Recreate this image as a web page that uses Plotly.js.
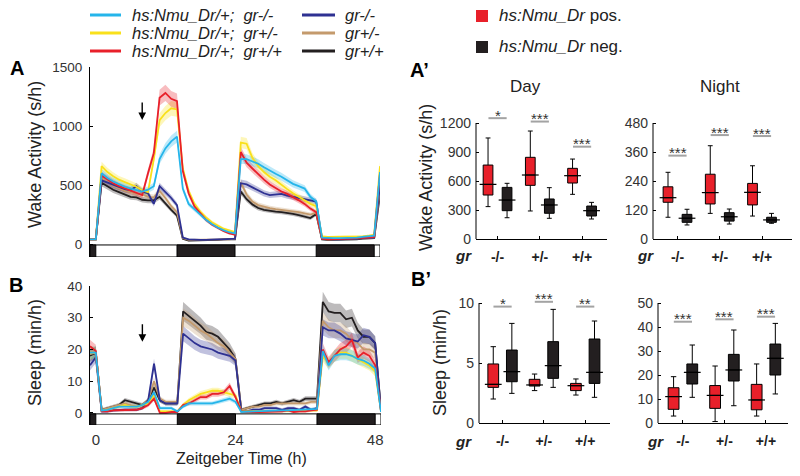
<!DOCTYPE html>
<html>
<head>
<meta charset="utf-8">
<script src="https://cdn.plot.ly/plotly-3.0.1.min.js"></script>
<style>
body{margin:0;background:#fff}
#graph{width:800px;height:476px}
</style>
</head>
<body>
<div id="graph"></div>
<script>
// hours of recording (ZT), hourly bins
var hours = [-1,0,1,2,3,4,5,6,7,8,9,10,11,12,13,14,15,16,17,18,19,20,21,22,23,24,
  25,26,27,28,29,30,31,32,33,34,35,36,37,38,39,40,41,42,43,44,45,46,47,48,49];

// light schedule
var darkStart = [-1, 14, 38];
var darkEnd = [0, 24, 48];
var barStart = -1, barEnd = 49;

var seriesLabels = ['hs:Nmu_Dr/+;\u00a0\u00a0gr-/-', 'hs:Nmu_Dr/+;\u00a0\u00a0gr+/-', 'hs:Nmu_Dr/+;\u00a0\u00a0gr+/+',
  'gr-/-', 'gr+/-', 'gr+/+'];
var seriesColors = ['#25b5ea', '#f9e01b', '#e8202a', '#2e3192', '#c49a6c', '#231f20'];

// wake activity (s/h)
var wakeCyan = [40,40,600,560,530,505,485,470,460,445, 460,490,720,810,870,910,470,340,295,250,
  205,170,140,118,100,90,720,720,700,680, 650,620,595,570,540,510,490,470,400,360,
  55,50,50,50,50,55,55,60,65,70, 610];
var wakeYellow = [40,40,660,610,575,545,525,505,485,455, 440,720,1050,1110,1150,1140,640,450,340,275,
  225,185,155,130,115,100,860,850,730,660, 610,570,540,500,465,430,400,375,340,320,
  65,60,60,60,60,60,65,65,70,80, 660];
var wakeRed = [40,40,580,545,515,490,470,455,435,415, 600,770,1240,1280,1230,1210,620,430,320,260,
  205,165,135,110,90,80,780,690,640,590, 545,505,475,445,425,400,370,340,300,270,
  45,40,40,40,45,45,50,50,55,60, 600];
var wakeNavy = [40,40,540,520,500,480,465,455,490,445, 430,340,490,440,390,330,55,40,35,35,
  35,40,40,40,45,45,515,505,480,455, 430,415,420,425,410,400,385,375,370,360,
  45,40,40,40,40,45,45,50,50,55, 500];
var wakeBrown = [40,40,560,525,495,470,450,440,425,420, 400,395,450,390,320,270,50,35,35,35,
  35,35,40,40,40,45,520,420,360,330, 315,305,295,290,285,280,270,260,250,265,
  45,40,40,40,40,45,45,50,50,55, 470];
var wakeBlack = [40,40,520,490,460,440,420,400,395,375, 370,370,400,340,290,240,45,30,30,30,
  35,35,35,40,40,40,445,380,335,305, 290,280,275,270,265,255,245,235,220,255,
  40,35,35,35,40,40,40,45,45,50, 420];

// sleep (min/h)
var sleepCyan = [19,19,0.8,1,1.5,2,2,2,2,2.5, 3.5,6.5,1.5,1.5,1.5,0.5,2,3,3,3,
  3,3,3.5,4,4.5,3.5,0.3,0.4,0.5,0.6, 0.7,0.7,0.8,0.8,0.8,0.9,1,1,1.1,1.3,
  19.5,15,18,18.5,18.5,18,17,16.5,15.5,14, 0.3];
var sleepYellow = [19,19,0.8,1,1.5,2,2.5,2,2,2.5, 3,5.5,0.5,0.5,0.5,0.5,2.5,4,5,6,
  6.5,7,7,6.5,6,5.5,0.5,0.5,0.5,0.5, 0.5,0.5,0.6,0.6,0.6,0.6,0.7,0.7,0.8,0.8,
  18,15.5,18,19,19,18,17,16,15,13, 0.5];
var sleepRed = [21,19.5,0.5,0.5,0.8,0.8,1,1,1,1.5, 2.5,4.5,0,0,0.3,0.3,2.5,3,4,5,
  5,6,6,6.5,8.5,5,0.5,0.3,0.3,0.3, 0.3,0.5,0.3,0.5,0.8,0.3,0.5,0.5,0.8,1,
  20,16,18,20,21,23,17.5,19,18,15, 0.5];
var sleepNavy = [15,17.5,0.5,0.5,0.8,1,1,1,1,1.5, 4,15.5,4,3,3,3,25,23.5,22,21,
  20.5,20,19,18.5,18,16.5,0.5,0.5,1,1, 1.5,1.5,1.5,1,1.5,1.5,1,2,1,1.5,
  27,26,26,25,23.5,23,22.5,24.5,24,22, 0.5];
var sleepBrown = [18.5,19,1,1.5,2,2.5,3,2.5,2,2.5, 4,10,4.5,3.5,3.5,3.5,30,29,27.5,26,
  25,23.5,22,21,19,17,1,1.5,2,2, 2.5,2.5,3,3,3,3,3,3,3.5,3.5,
  29,27,26,26,25,23,22,20,20,19, 1];
var sleepBlack = [18,19,1,1.5,2,2.5,4,3.5,3,2.5, 4,8,4,3,3,3,32,30.5,29,27.5,
  25.5,25,24,22,20,17,1,1.5,2,2.5, 3,3,3.5,3,3.5,4,3.5,4.5,4.5,4.5,
  35,32,31.5,31.5,29.5,30,26,24,24,22, 1];

// relative SEM used for the shaded bands
var wakeSemFrac = 0.05, sleepSemFrac = 0.08;

// box plot stats per genotype [-/-, +/-, +/+]: [low whisker, q1, median, q3, high whisker]
var genotypes = ['-/-', '+/-', '+/+'];
var wakeDayPos = [[335,455,565,765,1045],[290,555,662,845,1117],[462,579,655,731,827]];
var wakeDayNeg = [[220,293,403,534,576],[214,266,352,414,531],[207,238,293,341,379]];
var wakeNightPos = [[90,152,171,216,276],[106,145,192,268,386],[95,141,193,230,303]];
var wakeNightNeg = [[58,69,86,102,123],[62,74,92,109,124],[65,69,79,90,106]];
var sleepDayPos = [[2.0,2.97,3.22,4.92,6.36],[2.7,3.08,3.17,3.64,4.08],[2.33,2.7,3.11,3.3,3.67]];
var sleepDayNeg = [[2.47,3.44,4.28,6.08,8.3],[2.97,3.72,4.78,6.78,9.47],[2.14,3.3,4.22,7.0,8.5]];
var sleepNightPos = [[2.9,5.7,11,14.7,19.3],[0.6,6.1,11.5,15.6,23.75],[2.9,5.5,9.6,16.1,24.6]];
var sleepNightNeg = [[10.7,16.25,21.1,24.6,32.5],[7.2,17.5,22.1,28.6,38.75],[12.1,20,26.95,32.9,41.5]];

// y ticks of the box panels
var wakeDayTicks = [0, 300, 600, 900, 1200];
var wakeNightTicks = [0, 120, 240, 360, 480];
var sleepDayTicks = [0, 5, 10];
var sleepNightTicks = [0, 10, 20, 30, 40, 50];

// significance bars
var wakeDaySig = [1250, 1215, 955], wakeDayStars = ['*', '***', '***'];
var wakeNightSig = [345, 430, 426], wakeNightStars = ['***', '***', '***'];
var sleepDaySig = [9.7, 10.1, 9.7], sleepDayStars = ['*', '***', '**'];
var sleepNightSig = [42.2, 43.2, 44.3], sleepNightStars = ['***', '***', '***'];

var W = 800, H = 476;
function px(x) { return x / W; }
function py(y) { return 1 - y / H; }
function rgba(hex, a) {
  var n = parseInt(hex.slice(1), 16);
  return 'rgba(' + (n >> 16) + ',' + ((n >> 8) & 255) + ',' + (n & 255) + ',' + a + ')';
}

var FONT = 'Arial, "Liberation Sans", sans-serif';
var data = [];
var shapes = [];
var annotations = [];

function addTimeSeries(xa, ya, list, frac, floor) {
  // bands first
  list.forEach(function (s) {
    var lo = s.vals.map(function (v) { return Math.max(0, v - v * frac - floor); });
    var hi = s.vals.map(function (v) { return v + v * frac + floor; });
    data.push({x: hours, y: lo, xaxis: xa, yaxis: ya, mode: 'lines', line: {width: 0, color: s.color},
      hoverinfo: 'skip', showlegend: false});
    data.push({x: hours, y: hi, xaxis: xa, yaxis: ya, mode: 'lines', line: {width: 0, color: s.color},
      fill: 'tonexty', fillcolor: rgba(s.color, 0.3), hoverinfo: 'skip', showlegend: false});
  });
  list.forEach(function (s) {
    data.push({x: hours, y: s.vals, xaxis: xa, yaxis: ya, mode: 'lines',
      line: {width: 1.8, color: s.color}, showlegend: false});
  });
}

// draw order: black, tan, navy, yellow, red, cyan
addTimeSeries('x', 'y', [
  {vals: wakeBlack, color: seriesColors[5]}, {vals: wakeBrown, color: seriesColors[4]},
  {vals: wakeNavy, color: seriesColors[3]}, {vals: wakeYellow, color: seriesColors[1]},
  {vals: wakeRed, color: seriesColors[2]}, {vals: wakeCyan, color: seriesColors[0]}], wakeSemFrac, 5);
addTimeSeries('x2', 'y2', [
  {vals: sleepBlack, color: seriesColors[5]}, {vals: sleepBrown, color: seriesColors[4]},
  {vals: sleepNavy, color: seriesColors[3]}, {vals: sleepYellow, color: seriesColors[1]},
  {vals: sleepRed, color: seriesColors[2]}, {vals: sleepCyan, color: seriesColors[0]}], sleepSemFrac, 0.4);

// light/dark bars under the time courses
function lightBar(xr, yr, y0, y1) {
  shapes.push({type: 'rect', xref: xr, yref: yr, x0: barStart, x1: barEnd, y0: y0, y1: y1,
    line: {color: '#000', width: 1}, fillcolor: '#fff'});
  for (var i = 0; i < darkStart.length; i++) {
    shapes.push({type: 'rect', xref: xr, yref: yr, x0: darkStart[i], x1: darkEnd[i], y0: y0, y1: y1,
      line: {color: '#000', width: 1}, fillcolor: '#231f20'});
  }
}
lightBar('x', 'y', -110, -8);
lightBar('x2', 'y2', -3.8, -0.3);

var groupPos = [1, 2, 3];
var boxOffset = 0.225;

function addBoxes(xa, ya, pos, neg, sig, stars, bw, ticks) {
  [[pos, -boxOffset, '#e8202a'], [neg, boxOffset, '#231f20']].forEach(function (b) {
    var st = b[0];
    var xs = groupPos.map(function (g) { return g + b[1]; });
    data.push({type: 'box', x: xs, xaxis: xa, yaxis: ya,
      lowerfence: st.map(function (r) { return r[0]; }),
      q1: st.map(function (r) { return r[1]; }),
      median: st.map(function (r) { return r[2]; }),
      q3: st.map(function (r) { return r[3]; }),
      upperfence: st.map(function (r) { return r[4]; }),
      width: bw, whiskerwidth: 0.5, fillcolor: b[2], line: {color: '#000', width: 1},
      boxpoints: false, hoverinfo: 'skip', showlegend: false});
    // median lines reach past the box edges
    data.push({x: xs, y: st.map(function (r) { return r[2]; }), xaxis: xa, yaxis: ya, mode: 'markers',
      marker: {symbol: 'line-ew', size: 12, line: {color: '#000', width: 1.2}},
      hoverinfo: 'skip', showlegend: false});
  });
  data.push({x: groupPos, y: sig, xaxis: xa, yaxis: ya, mode: 'markers', cliponaxis: false,
    marker: {symbol: 'line-ew', size: 13, line: {color: '#a3a3a3', width: 2}},
    hoverinfo: 'skip', showlegend: false});
  for (var i = 0; i < groupPos.length; i++) {
    annotations.push({xref: xa, yref: ya, x: groupPos[i], y: sig[i], text: stars[i], showarrow: false,
      yanchor: 'middle', yshift: 3, font: {size: 15, color: '#333'}});
  }
  // y axis line only up to the top tick (sig bars sit above it)
  shapes.push({type: 'line', xref: xa + ' domain', yref: ya, x0: 0, x1: 0,
    y0: ticks[0], y1: ticks[ticks.length - 1], line: {color: '#000', width: 1}});
}
addBoxes('x3', 'y3', wakeDayPos, wakeDayNeg, wakeDaySig, wakeDayStars, 0.23, wakeDayTicks);
addBoxes('x4', 'y4', wakeNightPos, wakeNightNeg, wakeNightSig, wakeNightStars, 0.23, wakeNightTicks);
addBoxes('x5', 'y5', sleepDayPos, sleepDayNeg, sleepDaySig, sleepDayStars, 0.26, sleepDayTicks);
addBoxes('x6', 'y6', sleepNightPos, sleepNightNeg, sleepNightSig, sleepNightStars, 0.26, sleepNightTicks);

// axes
function yAx(dom, range, vals, xa) {
  return {domain: dom, range: range, tickvals: vals, ticks: 'inside', ticklen: 3, tickcolor: '#000',
    showline: true, linecolor: '#000', linewidth: 1, showgrid: false, zeroline: false, anchor: xa,
    ticklabelstandoff: 4, tickfont: {size: 14, color: '#333'}, fixedrange: true};
}
function yBox(domBottom, domTopPx, tickTopPx, ticks, xa) {
  // extend the range above the top tick so the sig bars fit inside the plot area
  var top = ticks[ticks.length - 1];
  var perPx = top / (domBottom - tickTopPx);
  var ax = yAx([py(domBottom), py(domTopPx)], [0, top + (tickTopPx - domTopPx) * perPx], ticks, xa);
  ax.showline = false;
  return ax;
}
function xBox(dom, range, ya) {
  return {domain: dom, range: range, tickvals: groupPos,
    ticktext: genotypes.map(function (g) { return '<b>' + g + '</b>'; }),
    ticks: 'inside', ticklen: 3, tickcolor: '#000', showline: true, linecolor: '#000', linewidth: 1,
    showgrid: false, zeroline: false, anchor: ya, ticklabelstandoff: 5,
    tickfont: {size: 14, color: '#222'}, fixedrange: true};
}

var layout = {
  width: W, height: H,
  margin: {l: 0, r: 0, t: 0, b: 0},
  paper_bgcolor: '#fff', plot_bgcolor: 'rgba(0,0,0,0)',
  font: {family: FONT, color: '#222'},
  showlegend: false,
  boxmode: 'overlay',
  xaxis: {domain: [px(90), px(380)], range: [barStart, barEnd], showticklabels: false, ticks: '',
    showline: false, showgrid: false, zeroline: false, anchor: 'y'},
  yaxis: Object.assign(yAx([py(257), py(67)], [-110, 1500], [0, 500, 1000, 1500], 'x'),
    {tickfont: {size: 13.5, color: '#333'}}),
  xaxis2: {domain: [px(90), px(381)], range: [barStart, barEnd], tickvals: [0, 24, 48], ticks: '',
    showline: false, showgrid: false, zeroline: false, anchor: 'y2', ticklabelstandoff: 4,
    tickfont: {size: 15, color: '#333'}},
  yaxis2: Object.assign(yAx([py(425), py(286)], [-3.8, 40], [0, 10, 20, 30, 40], 'x2'),
    {tickfont: {size: 13.5, color: '#333'}}),
  xaxis3: xBox([px(476), px(607)], [0.49, 3.59], 'y3'),
  yaxis3: yBox(239, 108, 123, wakeDayTicks, 'x3'),
  xaxis4: xBox([px(653), px(792)], [0.42, 3.71], 'y4'),
  yaxis4: yBox(239, 108, 123, wakeNightTicks, 'x4'),
  xaxis5: xBox([px(479), px(610)], [0.43, 3.6], 'y5'),
  yaxis5: yBox(423, 292, 303, sleepDayTicks, 'x5'),
  xaxis6: xBox([px(658), px(788)], [0.40, 3.53], 'y6'),
  yaxis6: yBox(423, 292, 303, sleepNightTicks, 'x6'),
  shapes: shapes,
  annotations: annotations
};

function note(x, y, text, size, extra) {
  var a = {xref: 'paper', yref: 'paper', x: px(x), y: py(y), text: text, showarrow: false,
    xanchor: 'center', yanchor: 'middle', font: {size: size, color: '#222'}};
  return Object.assign(a, extra || {});
}

// axis titles
annotations.push(note(35, 155, 'Wake Activity (s/h)', 18, {textangle: -90}));
annotations.push(note(35, 353, 'Sleep (min/h)', 18, {textangle: -90}));
annotations.push(note(426, 178, 'Wake Activity (s/h)', 18, {textangle: -90}));
annotations.push(note(440, 363, 'Sleep (min/h)', 18, {textangle: -90}));
annotations.push(note(241, 458, 'Zeitgeber Time (h)', 16));
annotations.push(note(525, 86, 'Day', 17));
annotations.push(note(720, 86, 'Night', 17));

// panel letters
annotations.push(note(17, 68, '<b>A</b>', 20, {font: {size: 20, color: '#000'}}));
annotations.push(note(16, 285, '<b>B</b>', 20, {font: {size: 20, color: '#000'}}));
annotations.push(note(419, 70, '<b>A\u2019</b>', 20, {font: {size: 20, color: '#000'}}));
annotations.push(note(421, 279, '<b>B\u2019</b>', 20, {font: {size: 20, color: '#000'}}));

// genotype axis label
[[464, 255], [645, 255], [463, 441], [655, 441]].forEach(function (p) {
  annotations.push(note(p[0], p[1], '<b><i>gr</i></b>', 15));
});

// arrows marking the heat shock
annotations.push({xref: 'x', yref: 'y', x: 8, y: 1050, ax: 0, ay: -19, text: '', showarrow: true,
  arrowhead: 2, arrowsize: 1.1, arrowwidth: 1.4, arrowcolor: '#000'});
annotations.push({xref: 'x2', yref: 'y2', x: 8, y: 22.4, ax: 0, ay: -19, text: '', showarrow: true,
  arrowhead: 2, arrowsize: 1.1, arrowwidth: 1.4, arrowcolor: '#000'});

// legend for the time courses
var legRows = [15, 33, 51];
for (var i = 0; i < 6; i++) {
  var col = i < 3 ? 0 : 1, row = i % 3;
  var lx0 = col ? 302 : 90, lx1 = col ? 335 : 121, tx = col ? 343 : 130;
  shapes.push({type: 'line', xref: 'paper', yref: 'paper', x0: px(lx0), x1: px(lx1),
    y0: py(legRows[row]), y1: py(legRows[row]), line: {color: seriesColors[i], width: 3}});
  annotations.push(note(tx, legRows[row], '<i>' + seriesLabels[i] + '</i>', 16.5, {xanchor: 'left'}));
}

// legend for the box plots
var boxLegend = [['#e8202a', '<i>hs:Nmu_Dr</i> pos.', 16], ['#231f20', '<i>hs:Nmu_Dr</i> neg.', 47]];
boxLegend.forEach(function (b) {
  shapes.push({type: 'rect', xref: 'paper', yref: 'paper', x0: px(476), x1: px(488),
    y0: py(b[2] + 6), y1: py(b[2] - 6), fillcolor: b[0], line: {width: 0}});
  annotations.push(note(497, b[2], b[1], 17, {xanchor: 'left'}));
});

Plotly.newPlot('graph', data, layout, {staticPlot: true});
</script>
</body>
</html>
